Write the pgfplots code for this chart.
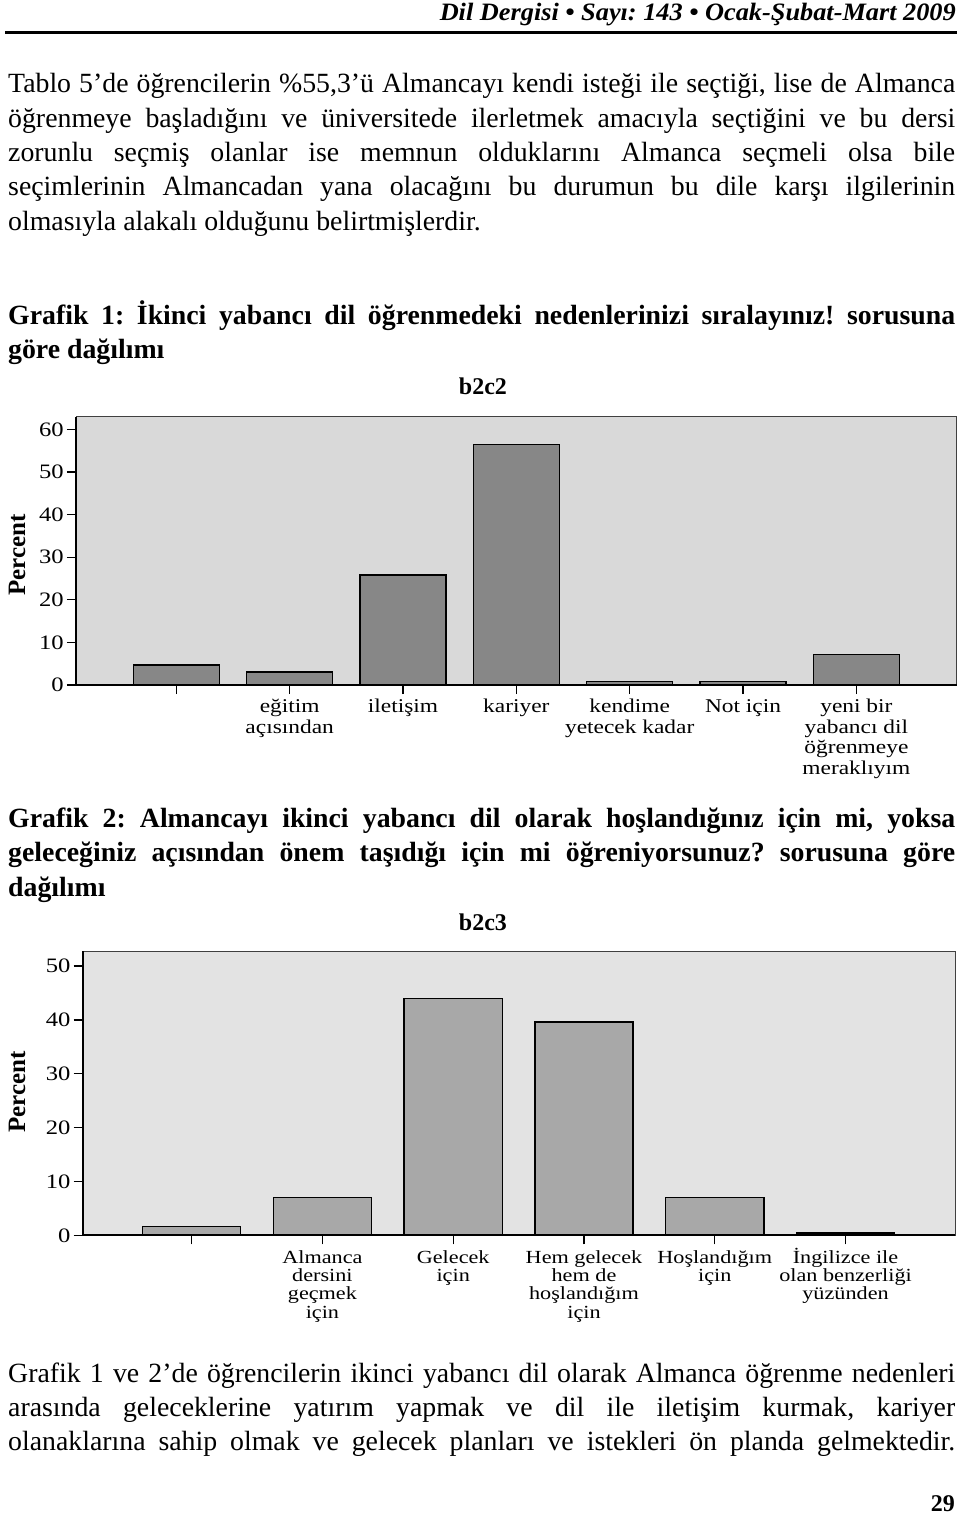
\documentclass[border=0pt]{standalone}
\usepackage{fontspec}
\setmainfont{Liberation Serif}
\newfontfamily\tickfont{Liberation Serif}[FakeStretch=1.2]
\usepackage{graphicx}
\usepackage{pgfplots}
\pgfplotsset{compat=1.18}
\definecolor{bgA}{HTML}{D9D9D9}
\definecolor{barA}{HTML}{878787}
\definecolor{bgB}{HTML}{E3E3E3}
\definecolor{barB}{HTML}{A8A8A8}
\newcommand\jl[1]{\makebox[947pt][s]{#1}}
\frenchspacing
\begin{document}
\frenchspacing
\begin{tikzpicture}[x=1pt,y=1pt]
\path[use as bounding box] (0,0) rectangle (960,-1518);
\node[anchor=base east, inner sep=0pt] at (956,-20) {\resizebox{516pt}{\height}{\fontsize{25}{27}\selectfont\bfseries\itshape Dil Dergisi • Sayı: 143 • Ocak-Şubat-Mart 2009}};
\fill (5,-30.8) rectangle (957,-33.8);
\begin{scope}[every node/.style={anchor=base west, inner sep=0pt, font=\fontsize{27.8}{34}\selectfont}]
\node at (8,-92.7) {\jl{Tablo 5’de öğrencilerin \%55,3’ü Almancayı kendi isteği ile seçtiği, lise de Almanca}};
\node at (8,-127) {\jl{öğrenmeye başladığını ve üniversitede ilerletmek amacıyla seçtiğini ve bu dersi}};
\node at (8,-161.3) {\jl{zorunlu seçmiş olanlar ise memnun olduklarını Almanca seçmeli olsa bile}};
\node at (8,-195.6) {\jl{seçimlerinin Almancadan yana olacağını bu durumun bu dile karşı ilgilerinin}};
\node at (8,-230) {olmasıyla alakalı olduğunu belirtmişlerdir.};
\node at (8,-324.5) {\bfseries\jl{Grafik 1: İkinci yabancı dil öğrenmedeki nedenlerinizi sıralayınız! sorusuna}};
\node at (8,-358.8) {\bfseries göre dağılımı};
\node at (8,-827.5) {\bfseries\jl{Grafik 2: Almancayı ikinci yabancı dil olarak hoşlandığınız için mi, yoksa}};
\node at (8,-861.8) {\bfseries\jl{geleceğiniz açısından önem taşıdığı için mi öğreniyorsunuz? sorusuna göre}};
\node at (8,-896) {\bfseries dağılımı};
\node at (8,-1382) {\jl{Grafik 1 ve 2’de öğrencilerin ikinci yabancı dil olarak Almanca öğrenme nedenleri}};
\node at (8,-1416.3) {\jl{arasında geleceklerine yatırım yapmak ve dil ile iletişim kurmak, kariyer}};
\node at (8,-1450.6) {\jl{olanaklarına sahip olmak ve gelecek planları ve istekleri ön planda gelmektedir.}};
\end{scope}
\node[anchor=base east, inner sep=0pt, font=\fontsize{24}{26}\selectfont\bfseries] at (955,-1511.5) {29};

\begin{axis}[
  at={(76pt,-685pt)}, anchor=south west,
  width=880.7pt, height=268.3pt, scale only axis,
  xmin=-0.885, xmax=6.885, ymin=0, ymax=63,
  clip=false,
  axis background/.style={fill=bgA},
  axis line style={draw=black!75, line width=0.9pt},
  ybar, bar width=0.76,
  xtick={0,...,6},
  xticklabels={{},{eğitim\\açısından},{iletişim},{kariyer},{kendime\\yetecek kadar},{Not için},{yeni bir\\yabancı dil\\öğrenmeye\\meraklıyım}},
  ytick={0,10,...,60},
  tick align=outside, xtick pos=bottom, ytick pos=left,
  major tick length=9pt,
  tick style={black, line width=1.2pt},
  /pgf/number format/assume math mode=true,
  xticklabel style={font=\tickfont\fontsize{19.5}{20.5}\selectfont, align=center, anchor=north, inner sep=0pt, yshift=-5pt},
  yticklabel style={font=\tickfont\fontsize{20.5}{22}\selectfont, anchor=east, inner sep=0pt, xshift=-3pt},
  ylabel={Percent},
  ylabel style={font=\fontsize{25}{28}\selectfont\bfseries, at={(axis description cs:-0.067,0.4845)}, anchor=center},
  title={b2c2},
  title style={font=\fontsize{24}{26}\selectfont\bfseries, at={(axis description cs:0.4621,1.0622)}, anchor=base},
]
\addplot[fill=barA, draw=black, line width=1.4pt] coordinates {(0,4.7) (1,3.1) (2,25.8) (3,56.5) (4,0.8) (5,0.8) (6,7.2)};
\draw[line width=2pt] (rel axis cs:0,1) -- (rel axis cs:0,0) -- (rel axis cs:1,0);
\end{axis}

\begin{axis}[
  at={(82.7pt,-1235.3pt)}, anchor=south west,
  width=872.3pt, height=284.3pt, scale only axis,
  xmin=-0.833, xmax=5.837, ymin=0, ymax=52.8,
  clip=false,
  axis background/.style={fill=bgB},
  axis line style={draw=black!75, line width=0.9pt},
  ybar, bar width=0.75,
  xtick={0,...,5},
  xticklabels={{},{Almanca\\dersini\\geçmek\\için},{Gelecek\\için},{Hem gelecek\\hem de\\hoşlandığım\\için},{Hoşlandığım\\için},{\smash{İ}ngilizce ile\\olan benzerliği\\yüzünden}},
  ytick={0,10,...,50},
  tick align=outside, xtick pos=bottom, ytick pos=left,
  major tick length=9pt,
  tick style={black, line width=1.2pt},
  /pgf/number format/assume math mode=true,
  xticklabel style={font=\tickfont\fontsize{18.5}{18.3}\selectfont, align=center, anchor=north, inner sep=0pt, yshift=-6pt},
  yticklabel style={font=\tickfont\fontsize{20.5}{22}\selectfont, anchor=east, inner sep=0pt, xshift=-3pt},
  ylabel={Percent},
  ylabel style={font=\fontsize{25}{28}\selectfont\bfseries, at={(axis description cs:-0.0751,0.505)}, anchor=center},
  title={b2c3},
  title style={font=\fontsize{24}{26}\selectfont\bfseries, at={(axis description cs:0.4589,1.0528)}, anchor=base},
]
\addplot[fill=barB, draw=black, line width=1.4pt] coordinates {(0,1.6) (1,7.0) (2,44.0) (3,39.6) (4,7.0) (5,0.4)};
\draw[line width=2pt] (rel axis cs:0,1) -- (rel axis cs:0,0) -- (rel axis cs:1,0);
\end{axis}
\end{tikzpicture}
\end{document}
